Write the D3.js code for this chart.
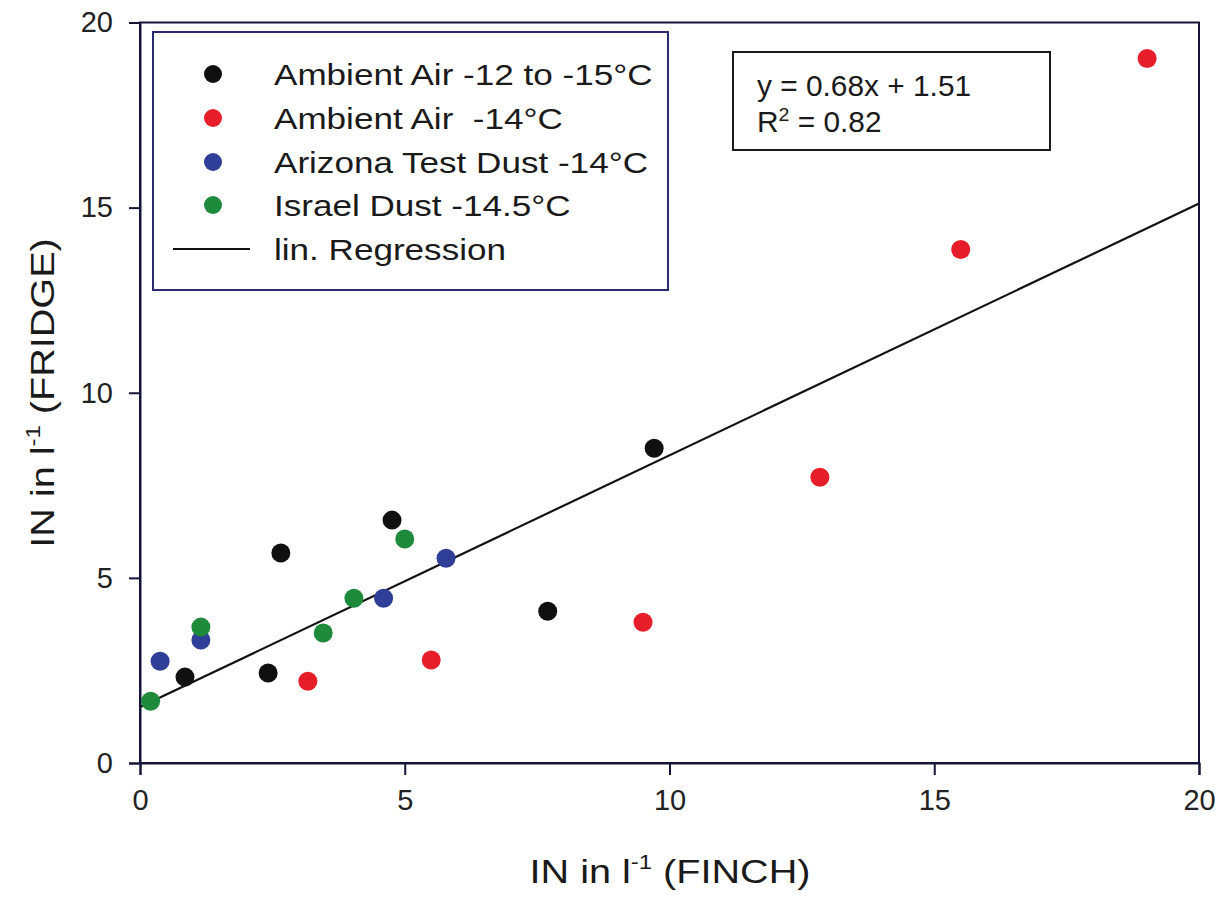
<!DOCTYPE html>
<html><head><meta charset="utf-8">
<script src="https://cdn.jsdelivr.net/npm/d3@7"></script>
<style>body{margin:0;background:#fff}svg{display:block}text{font-family:Arial,"Liberation Sans",sans-serif;white-space:pre}</style>
</head><body>
<svg id="c" width="1220" height="898"></svg>
<script>
const ambientRangeX = [0.85, 2.42, 2.66, 4.76, 7.70, 9.71];
const ambientRangeY = [2.32, 2.43, 5.67, 6.56, 4.10, 8.50];
const ambient14X = [3.17, 5.50, 9.50, 12.84, 15.50, 19.02];
const ambient14Y = [2.21, 2.78, 3.80, 7.72, 13.87, 19.03];
const arizonaX = [0.38, 1.15, 4.60, 5.78];
const arizonaY = [2.75, 3.32, 4.45, 5.53];
const israelX = [0.20, 1.15, 3.46, 4.04, 5.00];
const israelY = [1.67, 3.67, 3.51, 4.45, 6.05];
const seriesNames = ["Ambient Air -12 to -15°C", "Ambient Air  -14°C", "Arizona Test Dust -14°C", "Israel Dust -14.5°C"];
const seriesColors = ["#101010", "#e61e2a", "#2f3e96", "#1e8a3c"];
const slope = 0.68, intercept = 1.51, r2 = 0.82;
const xTicks = [0, 5, 10, 15, 20];
const yTicks = [0, 5, 10, 15, 20];

const series = [
  [ambientRangeX, ambientRangeY],
  [ambient14X, ambient14Y],
  [arizonaX, arizonaY],
  [israelX, israelY]
].map(([xs, ys], i) => ({name: seriesNames[i], color: seriesColors[i], pts: xs.map((x, j) => [x, ys[j]])}));

const svg = d3.select("#c");
const L = 140, R = 1199, T = 22.5, B = 763;
const x = d3.scaleLinear().domain([0, 20]).range([L, R]);
const y = d3.scaleLinear().domain([0, 20]).range([B, T]);
const axisColor = "#15153a";

function stretch(sel, ax, sx) { sel.attr("transform", `translate(${ax},0) scale(${sx},1) translate(${-ax},0)`); }

svg.append("rect").attr("x", L).attr("y", T).attr("width", R - L).attr("height", B - T)
  .attr("fill", "none").attr("stroke", axisColor).attr("stroke-width", 2);

const xa = svg.append("g").attr("transform", `translate(0,${B})`)
  .call(d3.axisBottom(x).tickValues(xTicks).tickSize(12).tickPadding(14).tickFormat(d3.format("d")));
const ya = svg.append("g").attr("transform", `translate(${L},0)`)
  .call(d3.axisLeft(y).tickValues(yTicks).tickSize(11).tickPadding(16).tickFormat(d3.format("d")));
[xa, ya].forEach(g => {
  g.select(".domain").attr("stroke", axisColor).attr("stroke-width", 2);
  g.selectAll(".tick line").attr("stroke", axisColor).attr("stroke-width", 2);
  g.selectAll(".tick text").attr("fill", "#222").style("font-size", "29px");
});

svg.append("line")
  .attr("x1", x(0)).attr("y1", y(intercept))
  .attr("x2", x(20)).attr("y2", y(slope * 20 + intercept))
  .attr("stroke", "#111").attr("stroke-width", 2.2);

series.forEach(s => {
  svg.append("g").selectAll("circle").data(s.pts).join("circle")
    .attr("cx", d => x(d[0])).attr("cy", d => y(d[1])).attr("r", 9.5)
    .attr("fill", s.color);
});

const lg = svg.append("g");
lg.append("rect").attr("x", 153).attr("y", 32).attr("width", 515).attr("height", 258)
  .attr("fill", "#fff").attr("stroke", "#2a2a6e").attr("stroke-width", 2);
const rowY = [74, 118, 162, 205, 249];
series.forEach((s, i) => {
  lg.append("circle").attr("cx", 213).attr("cy", rowY[i]).attr("r", 9).attr("fill", s.color);
  lg.append("text").attr("x", 274).attr("y", rowY[i]).attr("dy", "0.36em")
    .style("font-size", "30px").attr("fill", "#1a1a1a").text(s.name)
    .call(stretch, 274, 1.17);
});
lg.append("line").attr("x1", 173).attr("x2", 250).attr("y1", rowY[4]).attr("y2", rowY[4])
  .attr("stroke", "#111").attr("stroke-width", 2.2);
lg.append("text").attr("x", 274).attr("y", rowY[4]).attr("dy", "0.36em")
  .style("font-size", "30px").attr("fill", "#1a1a1a").text("lin. Regression")
  .call(stretch, 274, 1.17);

const eq = svg.append("g");
eq.append("rect").attr("x", 733).attr("y", 52).attr("width", 317).attr("height", 98)
  .attr("fill", "#fff").attr("stroke", "#1a1a1a").attr("stroke-width", 2);
eq.append("text").attr("x", 757).attr("y", 96).style("font-size", "29px").attr("fill", "#1a1a1a")
  .text(`y = ${slope.toFixed(2)}x + ${intercept.toFixed(2)}`).call(stretch, 757, 1.03);
const rt = eq.append("text").attr("x", 757).attr("y", 132).style("font-size", "29px").attr("fill", "#1a1a1a");
rt.append("tspan").text("R");
rt.append("tspan").attr("dy", -11).style("font-size", "19px").text("2");
rt.append("tspan").attr("dy", 11).text(` = ${r2.toFixed(2)}`);
rt.call(stretch, 757, 1.03);

const xt = svg.append("text").attr("x", 670).attr("y", 883).attr("text-anchor", "middle")
  .style("font-size", "33px").attr("fill", "#1a1a1a");
xt.append("tspan").text("IN in l");
xt.append("tspan").attr("dy", -14).style("font-size", "20px").text("-1");
xt.append("tspan").attr("dy", 14).text(" (FINCH)");
xt.call(stretch, 670, 1.2);

const yt = svg.append("g").attr("transform", "translate(54,393) rotate(-90)");
const ytt = yt.append("text").attr("x", 0).attr("y", 0).attr("text-anchor", "middle")
  .style("font-size", "33px").attr("fill", "#1a1a1a");
ytt.append("tspan").text("IN in l");
ytt.append("tspan").attr("dy", -14).style("font-size", "20px").text("-1");
ytt.append("tspan").attr("dy", 14).text(" (FRIDGE)");
ytt.call(stretch, 0, 1.2);
</script>
</body></html>
